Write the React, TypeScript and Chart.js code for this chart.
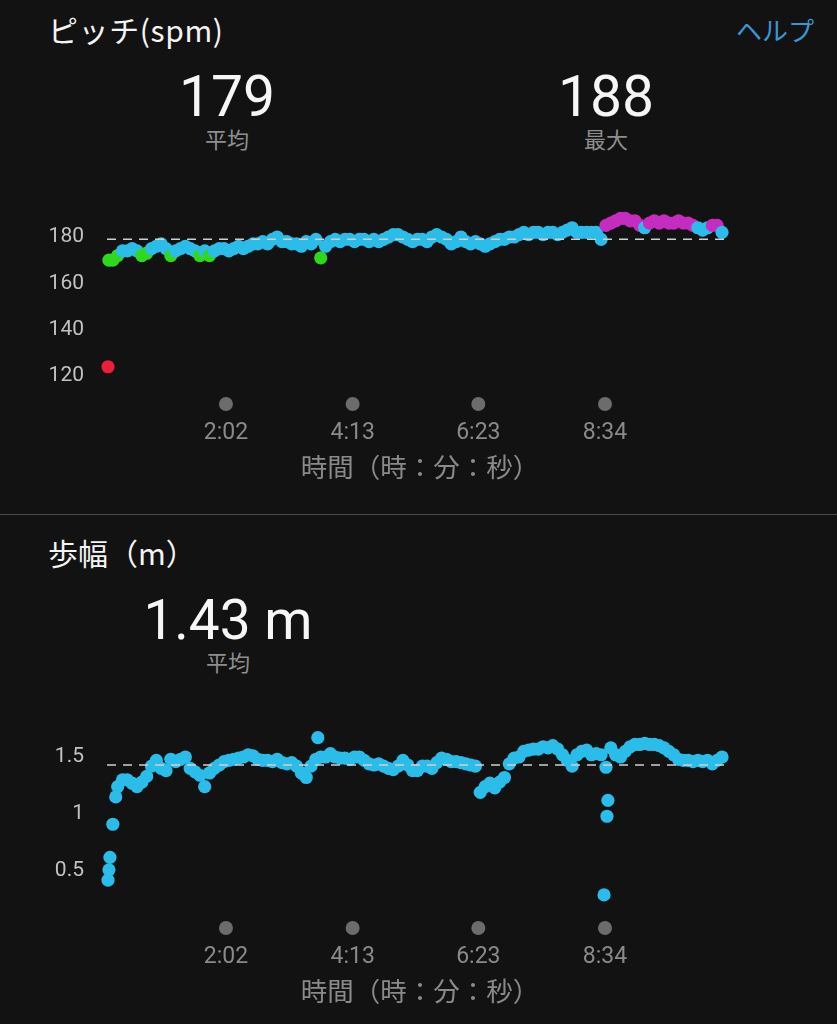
import React, { useEffect, useRef } from 'react';
import { Chart, registerables } from 'chart.js';

Chart.register(...registerables);

// ---------------- data ----------------
const SAMPLE_STEP_SEC = 5;
const TIME_TICK_SEC = [122, 253, 383, 514];
const TIME_TICK_LABELS = ['2:02', '4:13', '6:23', '8:34'];
const TIME_AXIS_TITLE = '時間（時：分：秒）';

const CADENCE_TICKS = [120, 140, 160, 180];
const CADENCE_TICK_LABELS = ['120', '140', '160', '180'];
const CADENCE_SPM = [
  124, 170, 172, 174, 174, 175, 174, 172, 173, 175,
  176, 177, 175, 172, 174, 175, 176, 175, 174, 172,
  174, 172, 174, 175, 175, 174, 175, 176, 175, 176,
  177, 177, 178, 177, 179, 180, 178, 178, 177, 177,
  176, 178, 177, 179, 171, 176, 178, 179, 178, 179,
  179, 178, 179, 179, 178, 179, 178, 179, 180, 181,
  181, 180, 179, 178, 179, 179, 178, 180, 181, 180,
  179, 177, 178, 180, 178, 177, 178, 177, 176, 177,
  178, 179, 179, 180, 180, 181, 182, 181, 182, 182,
  181, 182, 182, 181, 182, 183, 184, 182, 182, 182,
  182, 182, 179, 185, 186, 187, 188, 188, 187, 187,
  185, 184, 186, 187, 186, 187, 186, 186, 187, 186,
  186, 185, 184, 183, 184, 185, 185, 182,
];
const CADENCE_EXTRA_SEC = [1];
const CADENCE_EXTRA_SPM = [170];
const CADENCE_AVG = 179;
const CADENCE_MAX = 188;

const STRIDE_TICKS = [0.5, 1, 1.5];
const STRIDE_TICK_LABELS = ['0.5', '1', '1.5'];
const STRIDE_M = [
  0.42, 0.91, 1.24, 1.30, 1.30, 1.27, 1.24, 1.28, 1.33, 1.42,
  1.47, 1.40, 1.38, 1.48, 1.46, 1.48, 1.50, 1.40, 1.37, 1.34,
  1.24, 1.36, 1.40, 1.43, 1.46, 1.47, 1.48, 1.49, 1.50, 1.52,
  1.51, 1.48, 1.47, 1.47, 1.46, 1.48, 1.45, 1.44, 1.45, 1.42,
  1.36, 1.32, 1.42, 1.48, 1.50, 1.50, 1.53, 1.50, 1.49, 1.49,
  1.48, 1.50, 1.50, 1.47, 1.44, 1.43, 1.44, 1.42, 1.40, 1.39,
  1.42, 1.47, 1.43, 1.38, 1.38, 1.42, 1.42, 1.40, 1.45, 1.49,
  1.48, 1.46, 1.46, 1.45, 1.44, 1.43, 1.42, 1.19, 1.24, 1.27,
  1.23, 1.28, 1.32, 1.44, 1.49, 1.50, 1.55, 1.56, 1.57, 1.57,
  1.59, 1.58, 1.60, 1.57, 1.52, 1.47, 1.42, 1.52, 1.55, 1.56,
  1.52, 1.53, 1.52, 1.41, 1.58, 1.52, 1.50, 1.55, 1.59, 1.61,
  1.61, 1.62, 1.61, 1.61, 1.60, 1.58, 1.55, 1.52, 1.48, 1.47,
  1.47, 1.46, 1.47, 1.46, 1.47, 1.44, 1.47, 1.50,
];
const STRIDE_EXTRA_SEC = [1, 2, 8, 217, 513, 516, 517];
const STRIDE_EXTRA_M = [0.51, 0.62, 1.15, 1.67, 0.29, 0.98, 1.12];
const STRIDE_AVG = 1.43;

// ---------------- styling ----------------
const BG = '#121212';
const CJK = '"Noto Sans CJK JP", "Noto Sans", sans-serif';
const NUM = 'Roboto, "Noto Sans", sans-serif';
const CYAN = '#2bbde9';
const GREEN = '#2fd81c';
const MAGENTA = '#c62cc0';
const ORANGE = '#f08a1c';
const RED = '#ee1d3c';

function cadenceColor(v: number) {
  if (v >= 185) return MAGENTA;
  if (v >= 174) return CYAN;
  if (v >= 164) return GREEN;
  if (v >= 153) return ORANGE;
  return RED;
}

function toPoints(values: number[], extraT: number[], extraV: number[]) {
  const pts = values.map((v, i) => ({ x: i * SAMPLE_STEP_SEC, y: v }));
  extraT.forEach((t, i) => pts.push({ x: t, y: extraV[i] }));
  return pts;
}

const tickDots = {
  id: 'tickDots',
  afterDraw(chart: any) {
    const { ctx, chartArea, scales } = chart;
    const x = scales.x;
    ctx.save();
    ctx.fillStyle = '#6c6c6c';
    TIME_TICK_SEC.forEach((t) => {
      ctx.beginPath();
      ctx.arc(x.getPixelForValue(t), chartArea.bottom + 12, 7, 0, Math.PI * 2);
      ctx.fill();
    });
    ctx.restore();
  },
};

function buildConfig(o: {
  points: { x: number; y: number }[];
  color: (v: number) => string;
  avg: number;
  yMin: number;
  yMax: number;
  yTicks: number[];
  yLabels: string[];
  padTop: number;
}): any {
  return {
    type: 'scatter',
    data: {
      datasets: [
        {
          data: [
            { x: -1, y: o.avg },
            { x: 638, y: o.avg },
          ],
          showLine: true,
          borderColor: '#cfcfcf',
          borderWidth: 1.5,
          borderDash: [9, 7],
          pointRadius: 0,
          order: 0,
        },
        {
          data: o.points,
          pointRadius: 6.6,
          pointHoverRadius: 6.6,
          pointBorderWidth: 0,
          pointBackgroundColor: (ctx: any) => (ctx.raw ? o.color(ctx.raw.y) : CYAN),
          order: 1,
        },
      ],
    },
    options: {
      animation: false,
      responsive: true,
      maintainAspectRatio: false,
      events: [],
      layout: { padding: { top: o.padTop, right: 97, left: 0, bottom: 0 } },
      plugins: { legend: { display: false }, tooltip: { enabled: false } },
      scales: {
        x: {
          type: 'linear',
          min: -8.27,
          max: 653.6,
          grid: { display: false, drawTicks: false },
          border: { display: false },
          afterBuildTicks: (s: any) => {
            s.ticks = TIME_TICK_SEC.map((v) => ({ value: v }));
          },
          afterFit: (s: any) => {
            s.height = 100;
            s.paddingLeft = 0;
            s.paddingRight = 0;
          },
          ticks: {
            color: '#8a8a8a',
            font: { family: NUM, size: 23 },
            padding: 27.2,
            autoSkip: false,
            maxRotation: 0,
            callback: (_v: any, i: number) => TIME_TICK_LABELS[i],
          },
          title: {
            display: true,
            text: TIME_AXIS_TITLE,
            color: '#8a8a8a',
            font: { family: CJK, size: 26.5 },
            padding: { top: 0, bottom: 9 },
          },
        },
        y: {
          min: o.yMin,
          max: o.yMax,
          grid: { display: false, drawTicks: false },
          border: { display: false },
          afterBuildTicks: (s: any) => {
            s.ticks = o.yTicks.map((v) => ({ value: v }));
          },
          afterFit: (s: any) => {
            s.width = 100;
            s.paddingTop = 0;
            s.paddingBottom = 0;
          },
          ticks: {
            color: '#c2c2c2',
            font: { family: NUM, size: 21 },
            padding: 16,
            callback: (_v: any, i: number) => o.yLabels[i],
          },
        },
      },
    },
    plugins: [tickDots],
  };
}

function ChartBox({ top, height, config }: { top: number; height: number; config: () => any }) {
  const ref = useRef<HTMLCanvasElement>(null);
  useEffect(() => {
    const chart = new Chart(ref.current as HTMLCanvasElement, config());
    return () => chart.destroy();
  }, []);
  return (
    <div style={{ position: 'absolute', left: 0, top, width: 837, height }}>
      <canvas ref={ref} />
    </div>
  );
}

function Txt(p: {
  x: number;
  y: number;
  size: number;
  color: string;
  family: string;
  center?: boolean;
  right?: boolean;
  spacing?: number;
  children: React.ReactNode;
}) {
  const style: React.CSSProperties = {
    position: 'absolute',
    top: p.y,
    fontSize: p.size,
    lineHeight: `${p.size}px`,
    color: p.color,
    fontFamily: p.family,
    whiteSpace: 'nowrap',
    letterSpacing: p.spacing ? `${p.spacing}px` : undefined,
  };
  if (p.center) {
    style.left = p.x - 200;
    style.width = 400;
    style.textAlign = 'center';
  } else if (p.right) {
    style.right = 837 - p.x;
  } else {
    style.left = p.x;
  }
  return <div style={style}>{p.children}</div>;
}

export default function App() {
  const cadenceCfg = () =>
    buildConfig({
      points: toPoints(CADENCE_SPM, CADENCE_EXTRA_SEC, CADENCE_EXTRA_SPM),
      color: cadenceColor,
      avg: CADENCE_AVG,
      yMin: 113.1,
      yMax: 200,
      yTicks: CADENCE_TICKS,
      yLabels: CADENCE_TICK_LABELS,
      padTop: 10.66,
    });
  const strideCfg = () =>
    buildConfig({
      points: toPoints(STRIDE_M, STRIDE_EXTRA_SEC, STRIDE_EXTRA_M),
      color: () => CYAN,
      avg: STRIDE_AVG,
      yMin: 0.105,
      yMax: 1.851,
      yTicks: STRIDE_TICKS,
      yLabels: STRIDE_TICK_LABELS,
      padTop: 10,
    });

  return (
    <div
      style={{
        position: 'absolute',
        left: 0,
        top: 0,
        width: 837,
        height: 1024,
        background: BG,
        overflow: 'hidden',
      }}
    >
      <Txt x={48} y={14.3} size={30} spacing={0.6} color="#f4f4f4" family={CJK}>ピッチ(spm)</Txt>
      <Txt x={814} y={16.5} size={26} color="#3a97d4" family={CJK} right>ヘルプ</Txt>
      <Txt x={227} y={68} size={57} color="#f6f6f6" family={NUM} center>{String(CADENCE_AVG)}</Txt>
      <Txt x={227} y={126.8} size={22} color="#8e8e8e" family={CJK} center>平均</Txt>
      <Txt x={606} y={68} size={57} color="#f6f6f6" family={NUM} center>{String(CADENCE_MAX)}</Txt>
      <Txt x={606} y={126.8} size={22} color="#8e8e8e" family={CJK} center>最大</Txt>

      <ChartBox top={180} height={312} config={cadenceCfg} />

      <div style={{ position: 'absolute', left: 0, top: 514, width: 837, height: 1, background: '#4a4a4a' }} />

      <Txt x={48} y={537.3} size={30} color="#f4f4f4" family={CJK}>歩幅（m）</Txt>
      <Txt x={228} y={593} size={55} color="#f6f6f6" family={NUM} center>{`${STRIDE_AVG.toFixed(2)} m`}</Txt>
      <Txt x={228} y={649.8} size={22} color="#8e8e8e" family={CJK} center>平均</Txt>

      <ChartBox top={707} height={309} config={strideCfg} />
    </div>
  );
}
